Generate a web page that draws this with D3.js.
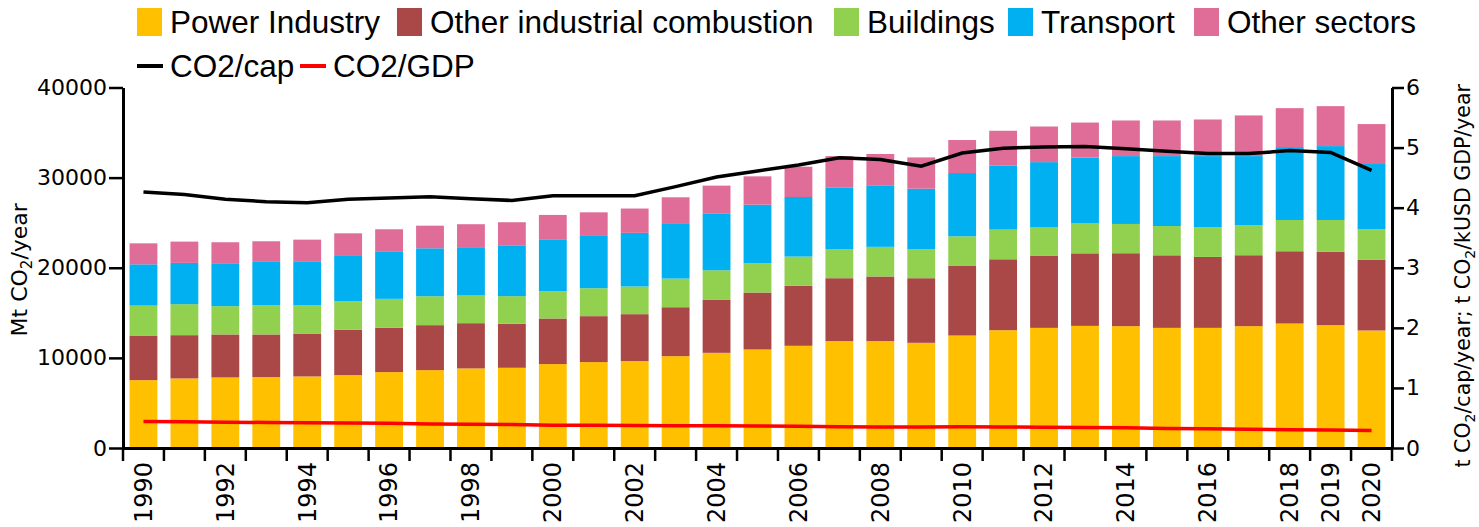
<!DOCTYPE html>
<html>
<head>
  <meta charset="UTF-8">
  <title>CO2 emissions by sector</title>
  <script src="https://d3js.org/d3.v7.min.js"></script>
  <style>
    body { margin: 0; background: #fff; }
    .axis text { font-family: "DejaVu Sans", sans-serif; fill: #000; }
    .legend text { font-family: "Liberation Sans", sans-serif; fill: #000; }
  </style>
</head>
<body>

<div class="chart"></div>

<script>

  // data (Mt CO2/year, per sector)
  var years = d3.range(1990, 2021).map(String);
  var yearLabels = ['1990', '1992', '1994', '1996', '1998', '2000', '2002', '2004', '2006',
                    '2008', '2010', '2012', '2014', '2016', '2018', '2019', '2020'];

  var powerIndustry = [7530, 7720, 7830, 7870, 7940, 8090, 8420, 8640, 8830, 8900,
                       9310, 9530, 9640, 10190, 10560, 10930, 11340, 11860, 11860, 11670,
                       12480, 13070, 13330, 13550, 13520, 13330, 13330, 13520, 13810, 13630, 13040];
  var otherIndustrial = [4950, 4800, 4770, 4730, 4760, 5020, 4910, 4990, 5020, 4880,
                         5060, 5100, 5210, 5430, 5870, 6320, 6650, 6980, 7170, 7170,
                         7720, 7870, 7980, 8050, 8090, 8050, 7870, 7870, 8020, 8130, 7830];
  var buildings = [3320, 3440, 3140, 3250, 3140, 3180, 3220, 3210, 3070, 3070,
                   3030, 3100, 3070, 3180, 3290, 3250, 3250, 3210, 3290, 3210,
                   3290, 3290, 3210, 3320, 3250, 3250, 3290, 3320, 3470, 3540, 3400];
  var transport = [4580, 4580, 4760, 4800, 4880, 5020, 5210, 5320, 5360, 5580,
                   5760, 5800, 5950, 6060, 6320, 6500, 6610, 6870, 6830, 6720,
                   7020, 7090, 7200, 7310, 7530, 7760, 7900, 7680, 8090, 8200, 7240];
  var otherSectors = [2330, 2360, 2330, 2290, 2400, 2510, 2510, 2510, 2550, 2620,
                      2700, 2620, 2700, 2960, 3070, 3140, 3360, 3470, 3470, 3470,
                      3660, 3880, 3950, 3880, 3950, 3950, 4060, 4510, 4320, 4430, 4430];

  // t CO2/cap/year and t CO2/kUSD GDP/year
  var co2PerCap = [4.26, 4.22, 4.14, 4.10, 4.08, 4.14, 4.16, 4.18, 4.15, 4.12,
                   4.20, 4.20, 4.20, 4.35, 4.51, 4.61, 4.71, 4.83, 4.80, 4.69,
                   4.91, 4.99, 5.01, 5.02, 4.98, 4.94, 4.90, 4.90, 4.95, 4.92, 4.62];
  var co2PerGdp = [0.44, 0.435, 0.43, 0.425, 0.42, 0.415, 0.41, 0.40, 0.395, 0.39,
                   0.38, 0.378, 0.375, 0.372, 0.37, 0.365, 0.36, 0.355, 0.35, 0.35,
                   0.355, 0.35, 0.345, 0.34, 0.335, 0.325, 0.32, 0.31, 0.305, 0.30, 0.29];

  var sectors = [
    { name: 'Power Industry', values: powerIndustry, color: '#FFC000' },
    { name: 'Other industrial combustion', values: otherIndustrial, color: '#A94846' },
    { name: 'Buildings', values: buildings, color: '#92D050' },
    { name: 'Transport', values: transport, color: '#00B0F0' },
    { name: 'Other sectors', values: otherSectors, color: '#E06C98' }
  ];
  var lines = [
    { name: 'CO2/cap', values: co2PerCap, color: '#000000' },
    { name: 'CO2/GDP', values: co2PerGdp, color: '#FF0000' }
  ];

  var W = 1479, H = 527;
  var plotLeft = 123, plotRight = 1392, plotTop = 87.5, plotBottom = 448;

  var svg = d3.select('.chart')
    .append('svg')
      .attr('width', W)
      .attr('height', H);

  var xScale = d3.scaleBand()
    .domain(years)
    .range([plotLeft, plotRight])
    .paddingInner(0.32)
    .paddingOuter(0.16);

  var yScale = d3.scaleLinear().domain([0, 40000]).range([plotBottom, plotTop]);
  var y2Scale = d3.scaleLinear().domain([0, 6]).range([plotBottom, plotTop]);

  // stack the sectors
  var rows = years.map((yr, i) => {
    var r = { year: yr };
    sectors.forEach(s => { r[s.name] = s.values[i]; });
    return r;
  });
  var stacked = d3.stack().keys(sectors.map(s => s.name))(rows);

  svg.append('g')
    .selectAll('g')
    .data(stacked)
    .enter()
    .append('g')
      .attr('fill', (d, i) => sectors[i].color)
    .selectAll('rect')
    .data(d => d)
    .enter()
    .append('rect')
      .attr('x', d => xScale(d.data.year))
      .attr('width', xScale.bandwidth())
      .attr('y', d => yScale(d[1]))
      .attr('height', d => yScale(d[0]) - yScale(d[1]));

  // intensity lines on the right axis
  var line = d3.line()
    .x((d, i) => xScale(years[i]) + xScale.bandwidth() / 2)
    .y(d => y2Scale(d));

  svg.selectAll('.line')
    .data(lines)
    .enter()
    .append('path')
      .attr('class', 'line')
      .attr('d', d => line(d.values))
      .style('stroke', d => d.color)
      .style('stroke-width', 3.5)
      .style('fill', 'none');

  // axes
  function styleAxis(g) {
    g.select('.domain').attr('stroke-width', 3);
    g.selectAll('.tick line').attr('stroke-width', 2.5);
  }

  svg.append('g')
    .attr('class', 'axis')
    .attr('transform', `translate(${plotLeft}, 0)`)
    .call(d3.axisLeft(yScale).tickValues([0, 10000, 20000, 30000, 40000])
      .tickFormat(d3.format('d')).tickSize(14).tickPadding(2).tickSizeOuter(0))
    .call(styleAxis)
    .selectAll('text').style('font-size', '22px');

  svg.append('g')
    .attr('class', 'axis')
    .attr('transform', `translate(${plotRight}, 0)`)
    .call(d3.axisRight(y2Scale).ticks(6).tickSize(12).tickPadding(2).tickSizeOuter(0))
    .call(styleAxis)
    .selectAll('text').style('font-size', '22px');

  var xAxis = svg.append('g')
    .attr('class', 'axis')
    .attr('transform', `translate(0, ${plotBottom})`)
    .call(d3.axisBottom(xScale).tickSize(0).tickSizeOuter(0)
      .tickFormat(d => yearLabels.indexOf(d) >= 0 ? d : ''))
    .call(styleAxis);
  xAxis.selectAll('text')
    .style('font-size', '24px')
    .attr('text-anchor', 'end')
    .attr('dy', '0.35em')
    .attr('transform', 'translate(0, 14) rotate(-90)')
    .attr('x', 0)
    .attr('y', 0);

  // ticks between the bars
  var step = xScale.step();
  var edges = years.map(yr => xScale(yr) - step * xScale.paddingInner() / 2);
  edges.push(plotRight);
  xAxis.selectAll('.edge')
    .data(edges)
    .enter()
    .append('line')
      .attr('class', 'edge')
      .attr('x1', d => d).attr('x2', d => d)
      .attr('y1', 0).attr('y2', 13)
      .attr('stroke', '#000')
      .attr('stroke-width', 2.5);

  // axis titles
  var leftTitle = svg.append('text')
    .attr('transform', `translate(27, ${(plotTop + plotBottom) / 2 + 2}) rotate(-90)`)
    .attr('text-anchor', 'middle')
    .style('font-family', '"DejaVu Sans", sans-serif')
    .style('font-size', '22px');
  leftTitle.append('tspan').text('Mt CO');
  leftTitle.append('tspan').text('2').attr('dy', 5).style('font-size', '15px');
  leftTitle.append('tspan').text('/year').attr('dy', -5);

  var rightTitle = svg.append('text')
    .attr('transform', `translate(1470, ${(plotTop + plotBottom) / 2 + 8}) rotate(-90)`)
    .attr('text-anchor', 'middle')
    .style('font-family', '"DejaVu Sans", sans-serif')
    .style('font-size', '20.5px');
  rightTitle.append('tspan').text('t CO');
  rightTitle.append('tspan').text('2').attr('dy', 5).style('font-size', '14px');
  rightTitle.append('tspan').text('/cap/year; t CO').attr('dy', -5);
  rightTitle.append('tspan').text('2').attr('dy', 5).style('font-size', '14px');
  rightTitle.append('tspan').text('/kUSD GDP/year').attr('dy', -5);

  // legend
  var legend = svg.append('g').attr('class', 'legend');
  var legendX = [137, 397, 834, 1008, 1194];
  sectors.forEach((s, i) => {
    legend.append('rect')
      .attr('x', legendX[i]).attr('y', 8)
      .attr('width', 25).attr('height', 28)
      .attr('fill', s.color);
    legend.append('text')
      .attr('x', legendX[i] + 33).attr('y', 33)
      .style('font-size', '31.5px')
      .text(s.name);
  });
  var lineLegendX = [137, 300];
  lines.forEach((l, i) => {
    legend.append('line')
      .attr('x1', lineLegendX[i]).attr('x2', lineLegendX[i] + 26)
      .attr('y1', 66).attr('y2', 66)
      .attr('stroke', l.color)
      .attr('stroke-width', 4);
    legend.append('text')
      .attr('x', lineLegendX[i] + 33).attr('y', 77)
      .style('font-size', '31.5px')
      .text(l.name);
  });

</script>

</body>
</html>
